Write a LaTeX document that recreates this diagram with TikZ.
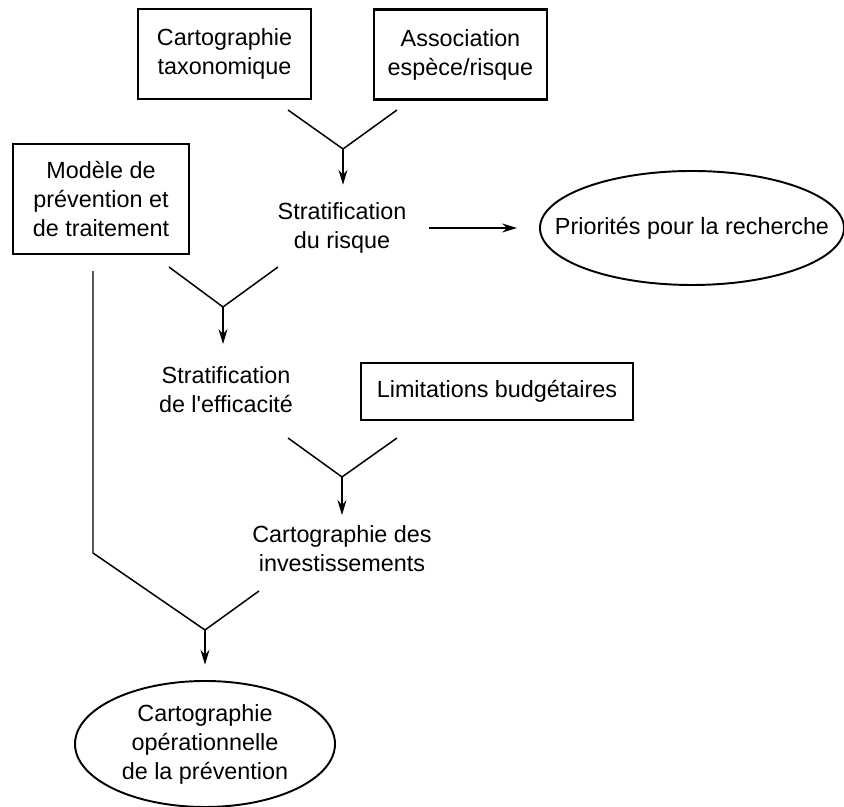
\documentclass[tikz,border=0pt]{standalone}
\usepackage{fontspec}
\setmainfont{Liberation Sans}
\usetikzlibrary{arrows.meta}

\begin{document}
\begin{tikzpicture}[
  every node/.style={font=\fontsize{13.3}{16.5}\selectfont, align=center, inner sep=0pt},
  box/.style={draw, line width=1.3pt, minimum width=3.46cm, minimum height=1.8cm},
  rim/.style={line width=1.1pt},
  ln/.style={line width=0.85pt},
  arr/.style={ln, -{Stealth[length=0.3cm, width=0.18cm, inset=0.1cm]}}]
  \useasboundingbox (0,0) rectangle (16.88,16.14);

  \node[box] (taxo) at (4.49,15.06) {Cartographie\\taxonomique};
  \node[box] (assoc) at (9.21,15.05) {Association\\espèce/risque};
  \node[box, minimum width=3.52cm, minimum height=2.2cm] (model) at (2.02,12.16)
    {Modèle de\\prévention et\\de traitement};
  \node (risque) at (6.84,11.58) {Stratification\\du risque};
  \node (prio) at (13.84,11.58) {Priorités pour la recherche};
  \draw[rim] (prio) ellipse [x radius=3.04, y radius=1.14];
  \node (effic) at (4.52,8.34) {Stratification\\de l\textquotesingle efficacité};
  \node[box, minimum width=5.44cm, minimum height=1.14cm] (budget) at (9.94,8.31)
    {Limitations budgétaires};
  \node (invest) at (6.84,5.16) {Cartographie des\\investissements};
  \node (opmap) at (4.10,1.26) {Cartographie\\opérationnelle\\de la prévention};
  \draw[rim] (opmap) ellipse [x radius=2.6, y radius=1.26];

  \coordinate (a1) at (5.76,13.94);
  \coordinate (b1) at (7.94,13.94);
  \coordinate (j1) at (6.86,13.16);
  \coordinate (a2) at (3.38,10.80);
  \coordinate (b2) at (5.56,10.80);
  \coordinate (j2) at (4.46,10.00);
  \coordinate (a3) at (5.76,7.38);
  \coordinate (b3) at (7.94,7.38);
  \coordinate (j3) at (6.84,6.60);
  \coordinate (bend) at (1.86,5.08);
  \coordinate (b4) at (5.18,4.32);
  \coordinate (j4) at (4.10,3.54);

  \draw[ln] (a1) -- (j1) -- (b1);
  \draw[arr, shorten >=0.35cm] (j1) -- (j1 |- risque.north);
  \draw[arr, shorten <=0.44cm, shorten >=0.75cm] (risque) -- (prio);
  \draw[ln] (a2) -- (j2) -- (b2);
  \draw[arr, shorten >=0.45cm] (j2) -- (j2 |- effic.north);
  \draw[ln] (a3) -- (j3) -- (b3);
  \draw[arr, shorten >=0.21cm] (j3) -- (j3 |- invest.north);
  \draw[ln, shorten <=0.32cm] (model.south -| bend) -- (bend) -- (j4) -- (b4);
  \draw[arr, shorten >=0.78cm] (j4) -- (j4 |- opmap.north);
\end{tikzpicture}
\end{document}
